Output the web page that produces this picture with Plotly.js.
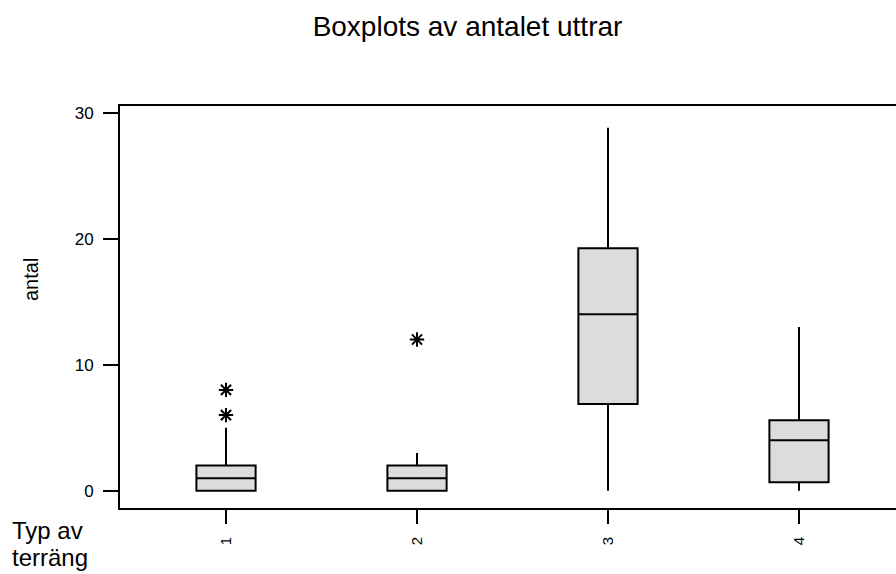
<!DOCTYPE html>
<html>
<head>
<meta charset="utf-8">
<script src="https://cdn.plot.ly/plotly-3.0.1.min.js"></script>
<style>
html,body{margin:0;padding:0;overflow:hidden;background:#fff;}
#chart{width:910px;height:574px;}
</style>
</head>
<body>
<div id="chart"></div>
<script>
// Data
const categories = [1, 2, 3, 4];
const tickLabels = ['1', '2', '3', '4'];
const lowerWhisker = [0, 0, 0, 0];
const q1Values = [0, 0, 6.875, 0.67];
const medianValues = [1, 1, 14, 4];
const q3Values = [2, 2, 19.25, 5.6];
const upperWhisker = [5, 3, 28.8, 13];
const outlierX = [1, 1, 2];
const outlierY = [6, 8, 12];
const yTicks = [0, 10, 20, 30];

const font = 'Liberation Sans, Arial, sans-serif';

const traces = [
  {
    type: 'box',
    x: categories,
    q1: q1Values,
    median: medianValues,
    q3: q3Values,
    lowerfence: lowerWhisker,
    upperfence: upperWhisker,
    boxpoints: false,
    width: 0.31,
    whiskerwidth: 0,
    fillcolor: '#dcdcdc',
    line: {color: '#000000', width: 2},
    hoverinfo: 'skip',
    showlegend: false
  },
  {
    type: 'scatter',
    mode: 'markers',
    x: outlierX,
    y: outlierY,
    marker: {symbol: 'asterisk-open', size: 12, color: '#000000', line: {color: '#000000', width: 2}},
    showlegend: false,
    hoverinfo: 'skip'
  }
];

const layout = {
  width: 910,
  height: 574,
  margin: {l: 120, r: 5, t: 106, b: 66},
  paper_bgcolor: '#ffffff',
  plot_bgcolor: '#ffffff',
  font: {family: font, color: '#000000', size: 17},
  title: {
    text: 'Boxplots av antalet uttrar',
    font: {family: font, size: 28, color: '#000000'},
    x: 467.5 / 910, xanchor: 'center', xref: 'container',
    y: 1 - 26 / 574, yanchor: 'middle', yref: 'container'
  },
  xaxis: {
    range: [0.445, 4.555],
    tickvals: categories,
    ticktext: tickLabels,
    tickangle: -90,
    ticks: 'outside',
    ticklen: 14,
    tickwidth: 2,
    tickcolor: '#000000',
    showline: true,
    linecolor: '#000000',
    linewidth: 2,
    mirror: true,
    showgrid: false,
    zeroline: false,
    ticklabelstandoff: 7,
    tickfont: {family: font, size: 15, color: '#000000'}
  },
  yaxis: {
    range: [-1.37, 30.53],
    tickvals: yTicks,
    ticks: 'outside',
    ticklen: 15,
    tickwidth: 2,
    tickcolor: '#000000',
    showline: true,
    linecolor: '#000000',
    linewidth: 2,
    showgrid: false,
    zeroline: false,
    ticklabelstandoff: 6,
    tickfont: {family: font, size: 17, color: '#000000'}
  },
  annotations: [
    {
      text: 'antal', textangle: -90,
      xref: 'paper', yref: 'paper',
      x: (31 - 120) / 785, y: (508 - 280) / 402,
      xanchor: 'center', yanchor: 'middle',
      showarrow: false,
      font: {family: font, size: 20, color: '#000000'}
    },
    {
      text: 'Typ av', align: 'left',
      xref: 'paper', yref: 'paper',
      x: (10 - 120) / 785, y: -(530 - 508) / 402,
      xanchor: 'left', yanchor: 'middle',
      showarrow: false,
      font: {family: font, size: 24, color: '#000000'}
    },
    {
      text: 'terräng', align: 'left',
      xref: 'paper', yref: 'paper',
      x: (10 - 120) / 785, y: -(557 - 508) / 402,
      xanchor: 'left', yanchor: 'middle',
      showarrow: false,
      font: {family: font, size: 24, color: '#000000'}
    }
  ]
};

Plotly.newPlot('chart', traces, layout, {displayModeBar: false, staticPlot: true});
</script>
</body>
</html>
